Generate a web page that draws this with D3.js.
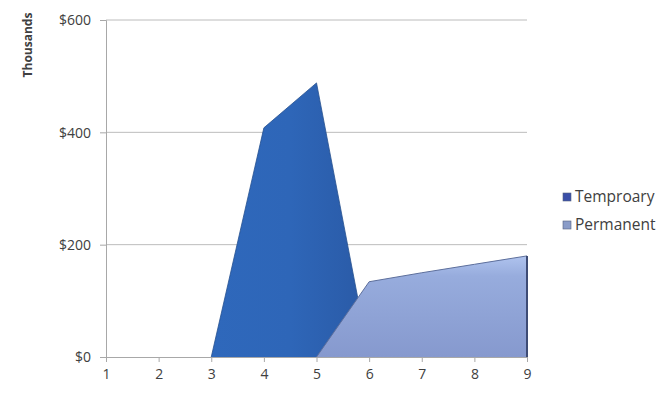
<!DOCTYPE html>
<html>
<head>
<meta charset="utf-8">
<script src="https://cdn.jsdelivr.net/npm/d3@7"></script>
<style>
  body { margin: 0; background: #fff; }
  svg text { font-family: "Open Sans", "Liberation Sans", sans-serif; fill: #404040; }
</style>
</head>
<body>
<div id="chart"></div>
<script>
const periods = [1, 2, 3, 4, 5, 6, 7, 8, 9];
const temporary = [0, 0, 0, 408, 488, 0, null, null, null];
const permanent = [null, null, null, null, 0, 134, 150, 165, 180];
const yTicks = [0, 200, 400, 600];
const seriesNames = ["Temproary", "Permanent"];

const width = 671, height = 397;

const x = d3.scaleLinear().domain([1, 9]).range([106, 527]);
const y = d3.scaleLinear().domain([0, 600]).range([357, 20]);

const svg = d3.select("#chart").append("svg")
  .attr("width", width)
  .attr("height", height);

const defs = svg.append("defs");

const gTemp = defs.append("linearGradient").attr("id", "gTemp")
  .attr("x1", 0).attr("x2", 1).attr("y1", 0).attr("y2", 0);
gTemp.append("stop").attr("offset", "0%").attr("stop-color", "#2a5aa5");
gTemp.append("stop").attr("offset", "25%").attr("stop-color", "#2f69bd");
gTemp.append("stop").attr("offset", "70%").attr("stop-color", "#2e66b8");
gTemp.append("stop").attr("offset", "100%").attr("stop-color", "#2a5aa6");

const gPerm = defs.append("linearGradient").attr("id", "gPerm")
  .attr("x1", 0).attr("x2", 0).attr("y1", 0).attr("y2", 1);
gPerm.append("stop").attr("offset", "0%").attr("stop-color", "#afc3ee");
gPerm.append("stop").attr("offset", "20%").attr("stop-color", "#97acdd");
gPerm.append("stop").attr("offset", "100%").attr("stop-color", "#8699ce");

// gridlines
svg.append("g")
  .selectAll("line")
  .data(yTicks.slice(1))
  .join("line")
  .attr("x1", x(1))
  .attr("x2", x(9))
  .attr("y1", d => y(d))
  .attr("y2", d => y(d))
  .attr("stroke", "#bcbcbc")
  .attr("stroke-width", 1);

// areas
const area = d3.area()
  .defined(d => d[1] !== null)
  .x(d => x(d[0]))
  .y0(y(0))
  .y1(d => y(d[1]));

const line = d3.line()
  .defined(d => d[1] !== null)
  .x(d => x(d[0]))
  .y(d => y(d[1]));

const tempData = periods.map((p, i) => [p, temporary[i]]);
const permData = periods.map((p, i) => [p, permanent[i]]);

svg.append("path")
  .datum(tempData)
  .attr("d", area)
  .attr("fill", "url(#gTemp)");

// outline only over the raised part
svg.append("path")
  .datum(tempData.slice(2))
  .attr("d", line)
  .attr("fill", "none")
  .attr("stroke", "#26508f")
  .attr("stroke-width", 0.8);

svg.append("path")
  .datum(permData)
  .attr("d", area)
  .attr("fill", "url(#gPerm)");

svg.append("path")
  .datum(permData)
  .attr("d", line)
  .attr("fill", "none")
  .attr("stroke", "#5d6f9c")
  .attr("stroke-width", 1);

// dark right side of permanent
svg.append("line")
  .attr("x1", x(9)).attr("x2", x(9))
  .attr("y1", y(permanent[8])).attr("y2", y(0))
  .attr("stroke", "#3e4c75")
  .attr("stroke-width", 2);

// axes
const yAxis = d3.axisLeft(y).tickValues(yTicks).tickSize(6).tickPadding(9)
  .tickFormat(d => "$" + d);
const xAxis = d3.axisBottom(x).tickValues(periods).tickSize(5).tickPadding(7)
  .tickFormat(d3.format("d"));

const gy = svg.append("g").attr("transform", `translate(${x(1)},0)`).call(yAxis);
const gx = svg.append("g").attr("transform", `translate(0,${y(0)})`).call(xAxis);

[gy, gx].forEach(g => {
  g.select(".domain").attr("stroke", "#a8a8a8");
  g.selectAll(".tick line").attr("stroke", "#a8a8a8");
  g.selectAll(".tick text")
    .attr("font-size", 14)
    .attr("fill", "#4a4a4a")
    .style("font-family", "'Open Sans', sans-serif");
});
gy.selectAll(".tick text").attr("dy", "0.35em");

// y label
svg.append("text")
  .attr("transform", "translate(32,45) rotate(-90)")
  .attr("text-anchor", "middle")
  .attr("font-size", 12)
  .attr("font-weight", "bold")
  .text("Thousands");

// legend
const legendColors = ["#3a4fa8", "#8a9cc8"];
const legend = svg.append("g")
  .selectAll("g")
  .data(seriesNames)
  .join("g")
  .attr("transform", (d, i) => `translate(563,${193 + i * 28})`);

legend.append("rect")
  .attr("width", 8)
  .attr("height", 8)
  .attr("fill", (d, i) => legendColors[i])
  .attr("stroke", "#55627f")
  .attr("stroke-width", 0.6);

legend.append("text")
  .attr("x", 12)
  .attr("y", 9)
  .attr("font-size", 15.5)
  .text(d => d);
</script>
</body>
</html>
